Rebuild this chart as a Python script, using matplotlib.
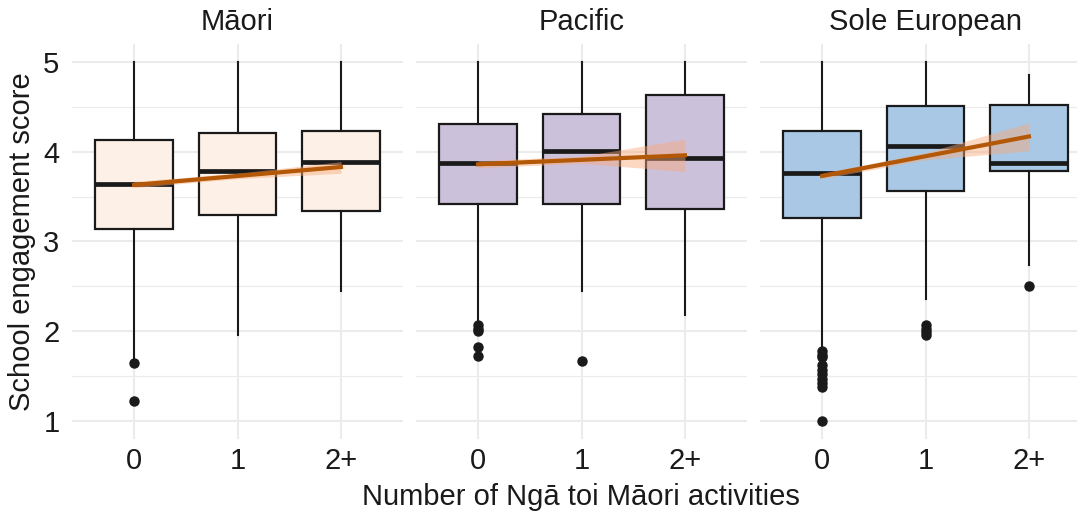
import numpy as np
import matplotlib
matplotlib.use("Agg")
import matplotlib.pyplot as plt

plt.rcParams['font.family'] = ['Liberation Sans', 'DejaVu Sans']

groups = ['Māori', 'Pacific', 'Sole European']
cats = ['0', '1', '2+']
fills = ['#FDF0E6', '#CCC1DA', '#A8C8E5']

# box stats per group, per category
q1 = [[3.14, 3.29, 3.34], [3.42, 3.42, 3.36], [3.26, 3.56, 3.78]]
med = [[3.64, 3.79, 3.89], [3.88, 4.01, 3.93], [3.76, 4.06, 3.88]]
q3 = [[4.13, 4.21, 4.23], [4.31, 4.42, 4.63], [4.23, 4.51, 4.52]]
whislo = [[1.67, 1.96, 2.45], [2.10, 2.45, 2.18], [1.82, 2.36, 2.74]]
whishi = [[5.0, 5.0, 5.0], [5.0, 5.0, 5.0], [5.0, 5.0, 4.85]]
fliers = [
    [[1.65, 1.22], [], []],
    [[2.07, 2.03, 2.00, 1.83, 1.73], [1.67], []],
    [[1.78, 1.74, 1.71, 1.62, 1.57, 1.52, 1.47, 1.42, 1.38, 1.0],
     [2.07, 2.03, 1.99, 1.96], [2.5]],
]

# linear trend + ribbon
fit = [[3.63, 3.73, 3.83], [3.86, 3.91, 3.96], [3.73, 3.95, 4.17]]
fit_lo = [[3.60, 3.70, 3.76], [3.82, 3.87, 3.78], [3.70, 3.91, 4.01]]
fit_hi = [[3.67, 3.76, 3.89], [3.90, 3.95, 4.14], [3.76, 3.99, 4.32]]

W, H = 1077, 514
fig = plt.figure(figsize=(W / 100, H / 100), dpi=100)

lefts = [72, 416, 760]
pw = 331
top, bot = 44, 439
dark = '#1A1A1A'
fs = 21
pos = np.arange(1, len(cats) + 1)

for g, name in enumerate(groups):
    ax = fig.add_axes([lefts[g] / W, (H - bot) / H, pw / W, (bot - top) / H])
    stats = []
    for c in range(len(cats)):
        stats.append(dict(med=med[g][c], q1=q1[g][c], q3=q3[g][c],
                          whislo=whislo[g][c], whishi=whishi[g][c],
                          fliers=fliers[g][c]))
    ax.bxp(stats, positions=pos, widths=0.75, patch_artist=True,
           showcaps=False,
           boxprops=dict(facecolor=fills[g], edgecolor=dark, linewidth=1.6),
           medianprops=dict(color=dark, linewidth=3.4),
           whiskerprops=dict(color=dark, linewidth=1.5),
           flierprops=dict(marker='o', markerfacecolor=dark, markeredgecolor=dark,
                           markersize=6.5, linestyle='none'))
    ax.fill_between(pos, fit_lo[g], fit_hi[g], color='#F9A877', alpha=0.45,
                    linewidth=0, zorder=4)
    ax.plot(pos, fit[g], color='#B35806', linewidth=3.0, zorder=5)

    ax.set_xlim(0.4, 3.6)
    ax.set_ylim(0.8, 5.2)
    ax.set_xticks(pos)
    ax.set_xticklabels(cats)
    ax.set_yticks([1, 2, 3, 4, 5])
    ax.set_yticks([1.5, 2.5, 3.5, 4.5], minor=True)
    ax.grid(True, which='major', color='#EBEBEB', linewidth=1.5)
    ax.grid(True, which='minor', axis='y', color='#EBEBEB', linewidth=0.8)
    ax.set_axisbelow(True)
    for s in ax.spines.values():
        s.set_visible(False)
    ax.tick_params(axis='both', which='both', length=0, labelsize=fs,
                   colors=dark)
    ax.tick_params(axis='x', pad=6)
    ax.tick_params(axis='y', pad=9)
    if g > 0:
        ax.set_yticklabels([])
    ax.text(0.5, 1 + (top - 22) / (bot - top), name, transform=ax.transAxes,
            ha='center', va='center', fontsize=fs, color=dark)

fig.text(22 / W, 1 - 241.5 / H, 'School engagement score', rotation=90,
         ha='center', va='center', fontsize=fs, color=dark)
fig.text(581 / W, 1 - 497 / H, 'Number of Ngā toi Māori activities',
         ha='center', va='center', fontsize=fs, color=dark)

fig.savefig('out.png', dpi=100)
